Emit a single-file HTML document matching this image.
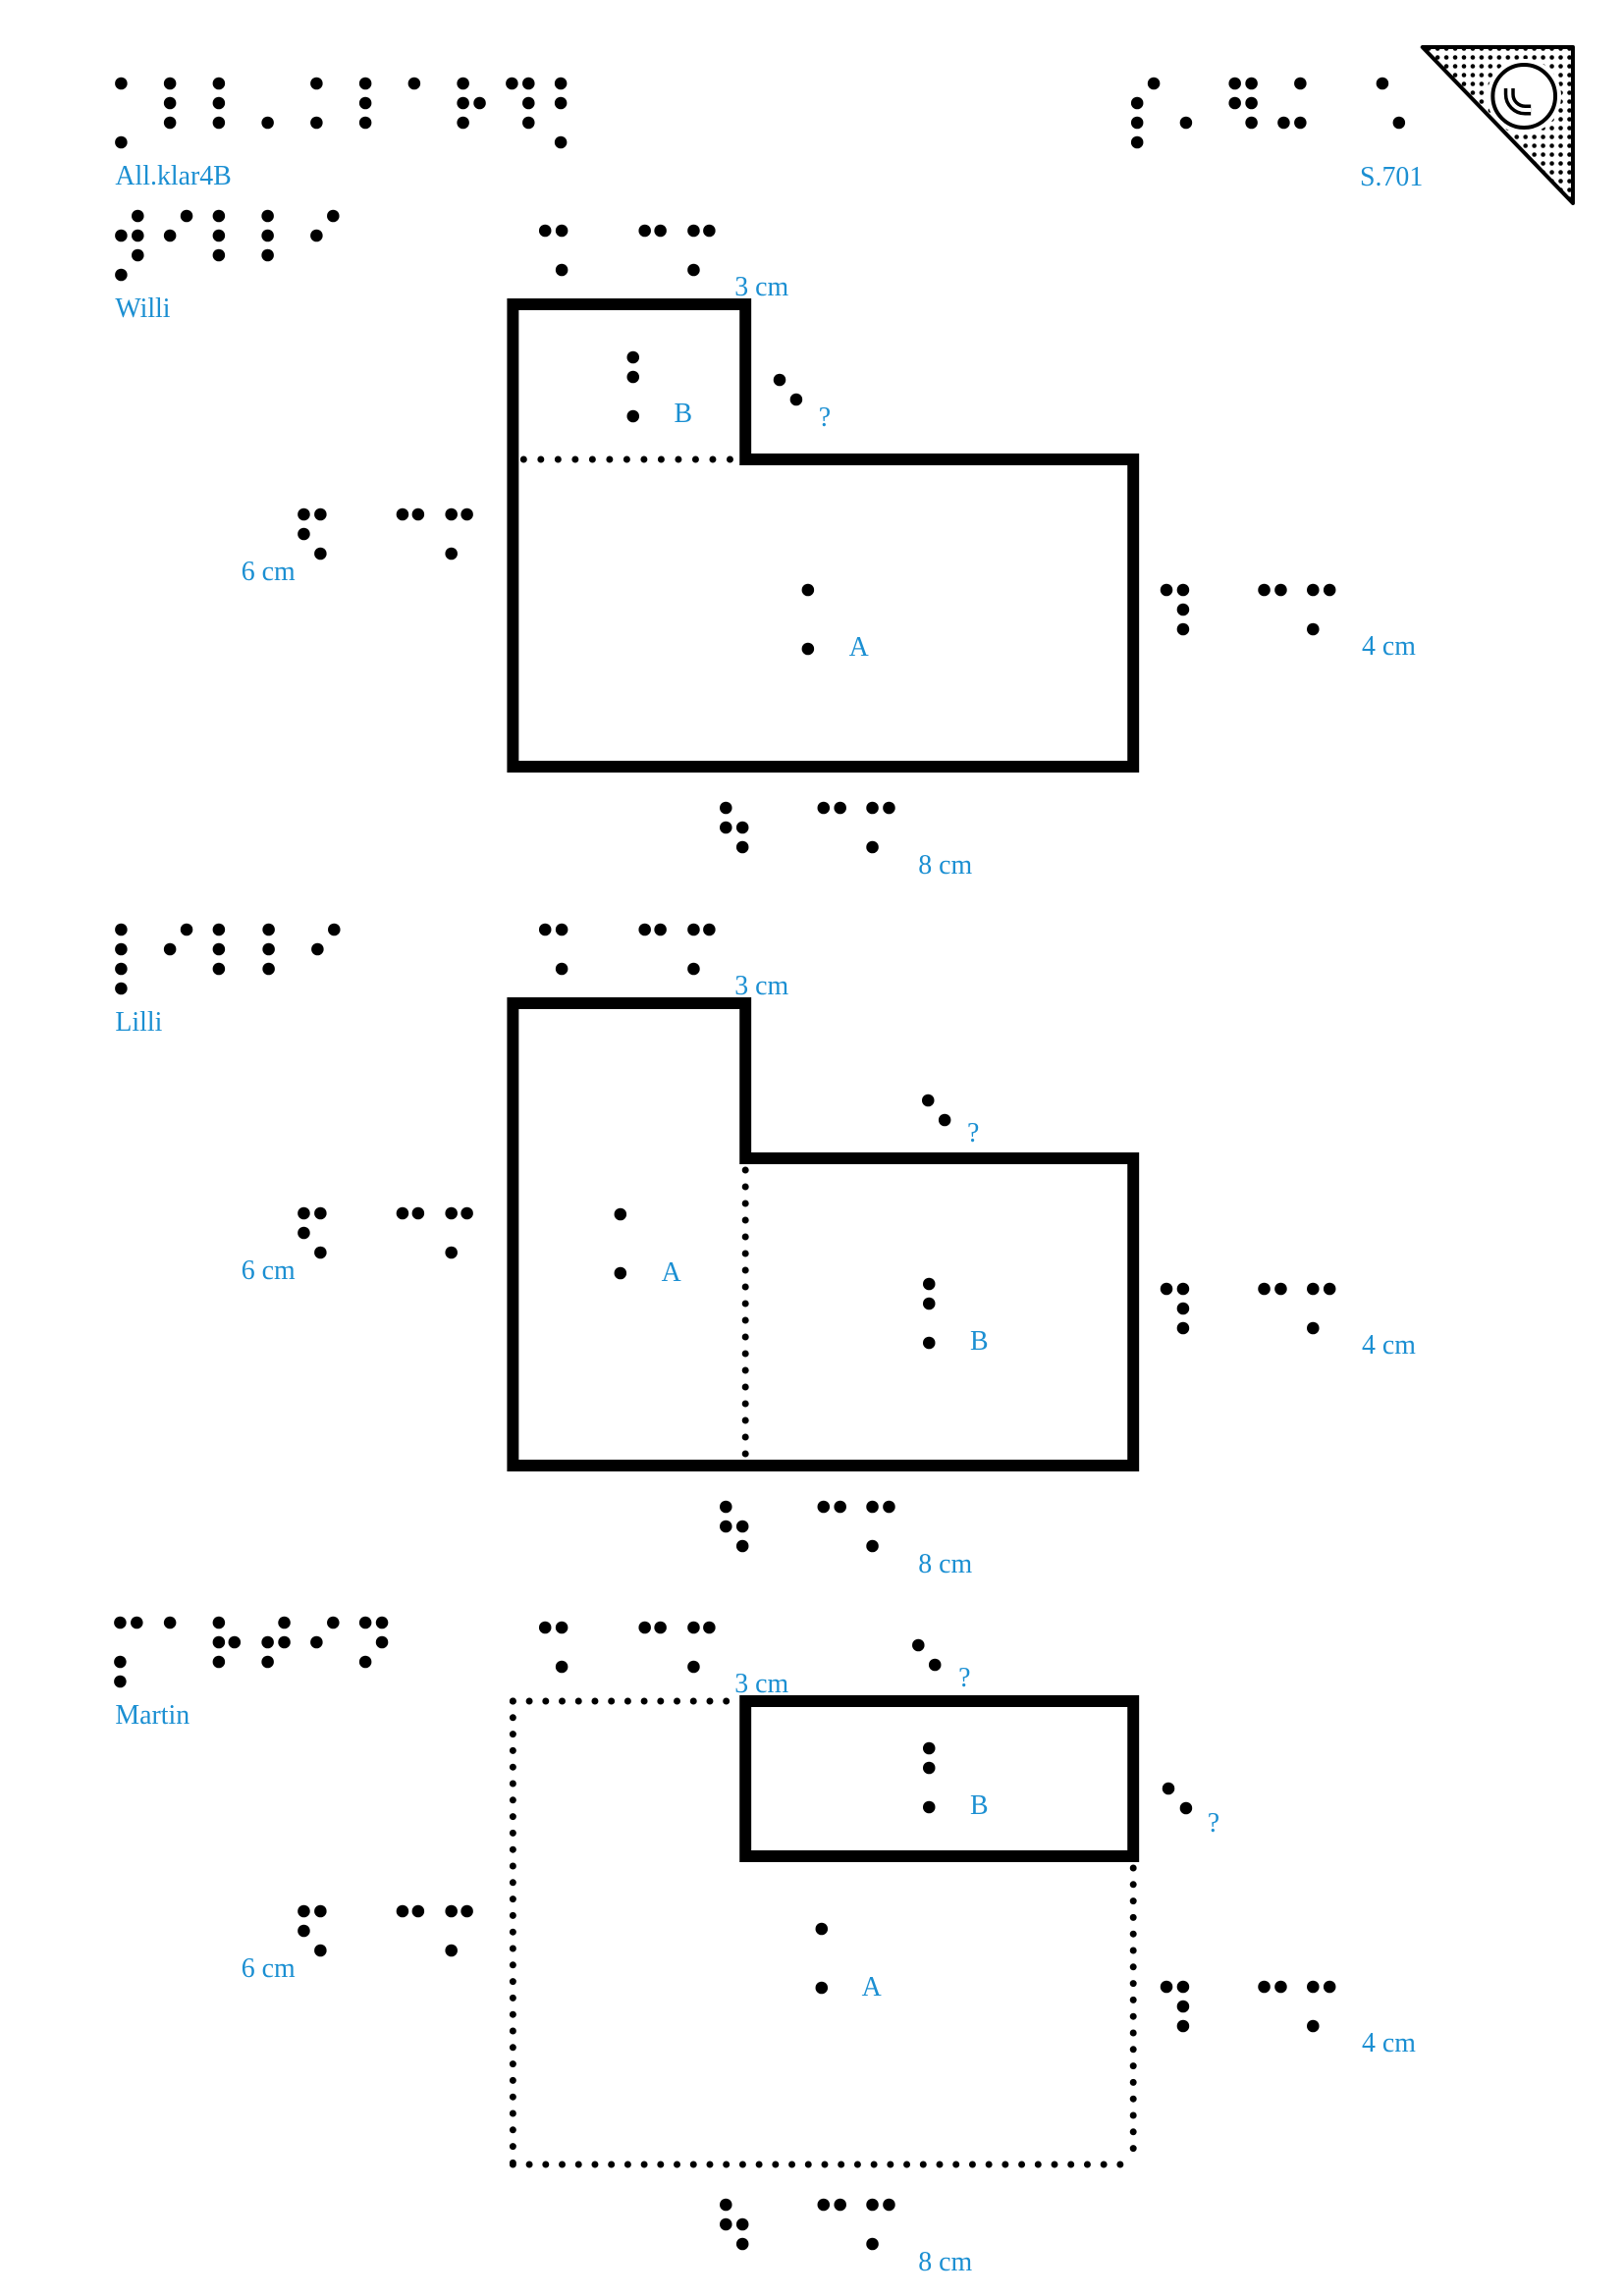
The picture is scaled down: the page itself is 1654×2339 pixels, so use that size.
<!DOCTYPE html>
<html><head><meta charset="utf-8"><style>
html,body{margin:0;padding:0;background:#fff;}
svg{display:block;}
text{font-family:"Liberation Serif",serif;font-size:28px;fill:#1b8fd2;}
</style></head><body>
<svg width="1654" height="2339" viewBox="0 0 1654 2339" xmlns="http://www.w3.org/2000/svg">
<defs>
<pattern id="dp" width="9" height="9" patternUnits="userSpaceOnUse"><circle cx="4.5" cy="4.5" r="2.3" fill="#000"/></pattern>
<clipPath id="tri"><polygon points="1456,48 1610,48 1610,207"/></clipPath>
<g id="common">
 <circle cx="558" cy="235" r="6.3"/><circle cx="575" cy="235" r="6.3"/><circle cx="575" cy="275" r="6.3"/>
 <circle cx="660" cy="235" r="6.3"/><circle cx="676" cy="235" r="6.3"/>
 <circle cx="710" cy="235" r="6.3"/><circle cx="726" cy="235" r="6.3"/><circle cx="710" cy="275" r="6.3"/>
 <text x="752" y="301">3 cm</text>
 <circle cx="311" cy="524" r="6.3"/><circle cx="328" cy="524" r="6.3"/><circle cx="311" cy="544" r="6.3"/><circle cx="328" cy="564" r="6.3"/>
 <circle cx="412" cy="524" r="6.3"/><circle cx="428" cy="524" r="6.3"/>
 <circle cx="462" cy="524" r="6.3"/><circle cx="478" cy="524" r="6.3"/><circle cx="462" cy="564" r="6.3"/>
 <text x="247" y="591">6 cm</text>
 <circle cx="1194" cy="601" r="6.3"/><circle cx="1211" cy="601" r="6.3"/><circle cx="1211" cy="621" r="6.3"/><circle cx="1211" cy="641" r="6.3"/>
 <circle cx="1294" cy="601" r="6.3"/><circle cx="1311" cy="601" r="6.3"/>
 <circle cx="1344" cy="601" r="6.3"/><circle cx="1361" cy="601" r="6.3"/><circle cx="1344" cy="641" r="6.3"/>
 <text x="1394" y="667">4 cm</text>
 <circle cx="743" cy="823" r="6.3"/><circle cx="743" cy="843" r="6.3"/><circle cx="760" cy="843" r="6.3"/><circle cx="760" cy="863" r="6.3"/>
 <circle cx="843" cy="823" r="6.3"/><circle cx="860" cy="823" r="6.3"/>
 <circle cx="893" cy="823" r="6.3"/><circle cx="910" cy="823" r="6.3"/><circle cx="893" cy="863" r="6.3"/>
 <text x="940" y="890">8 cm</text>
</g>
</defs>
<g transform="scale(0.995,1)">
<g fill="#000">
<circle cx="124" cy="85" r="6.3"/><circle cx="124" cy="145" r="6.3"/>
<circle cx="174" cy="85" r="6.3"/><circle cx="174" cy="105" r="6.3"/><circle cx="174" cy="125" r="6.3"/>
<circle cx="224" cy="85" r="6.3"/><circle cx="224" cy="105" r="6.3"/><circle cx="224" cy="125" r="6.3"/>
<circle cx="274" cy="125" r="6.3"/>
<circle cx="324" cy="85" r="6.3"/><circle cx="324" cy="125" r="6.3"/>
<circle cx="374" cy="85" r="6.3"/><circle cx="374" cy="105" r="6.3"/><circle cx="374" cy="125" r="6.3"/>
<circle cx="424" cy="85" r="6.3"/>
<circle cx="474" cy="85" r="6.3"/><circle cx="474" cy="105" r="6.3"/><circle cx="491" cy="105" r="6.3"/><circle cx="474" cy="125" r="6.3"/>
<circle cx="524" cy="85" r="6.3"/><circle cx="541" cy="85" r="6.3"/><circle cx="541" cy="105" r="6.3"/><circle cx="541" cy="125" r="6.3"/>
<circle cx="574" cy="85" r="6.3"/><circle cx="574" cy="105" r="6.3"/><circle cx="574" cy="145" r="6.3"/>
</g>
<text x="118" y="188">All.klar4B</text>

<g fill="#000">
<circle cx="1164" cy="105" r="6.3"/><circle cx="1164" cy="125" r="6.3"/><circle cx="1164" cy="145" r="6.3"/><circle cx="1181" cy="85" r="6.3"/><circle cx="1214" cy="125" r="6.3"/>
<circle cx="1264" cy="85" r="6.3"/><circle cx="1281" cy="85" r="6.3"/><circle cx="1264" cy="105" r="6.3"/><circle cx="1281" cy="105" r="6.3"/><circle cx="1281" cy="125" r="6.3"/>
<circle cx="1314" cy="125" r="6.3"/><circle cx="1331" cy="85" r="6.3"/><circle cx="1331" cy="125" r="6.3"/>
<circle cx="1415" cy="85" r="6.3"/><circle cx="1432" cy="125" r="6.3"/>
</g>
<text x="1392" y="189">S.701</text>
<rect x="1440" y="40" width="180" height="180" fill="url(#dp)" clip-path="url(#tri)"/>
<circle cx="1560" cy="98" r="38" fill="#fff"/>
<circle cx="1560" cy="98" r="32" fill="none" stroke="#000" stroke-width="4"/>
<path d="M1545,90 v6 a16,16 0 0 0 16,16 h6" fill="none" stroke="#000" stroke-width="11"/>
<path d="M1545,90 v6 a16,16 0 0 0 16,16 h6" fill="none" stroke="#fff" stroke-width="4"/>
<polygon points="1456,48 1610,48 1610,207" fill="none" stroke="#000" stroke-width="4" stroke-linejoin="round"/>

<!-- Willi -->
<g fill="#000">
<circle cx="141" cy="220" r="6.3"/><circle cx="124" cy="240" r="6.3"/><circle cx="141" cy="240" r="6.3"/><circle cx="141" cy="260" r="6.3"/><circle cx="124" cy="280" r="6.3"/>
<circle cx="191" cy="220" r="6.3"/><circle cx="174" cy="240" r="6.3"/>
<circle cx="224" cy="220" r="6.3"/><circle cx="224" cy="240" r="6.3"/><circle cx="224" cy="260" r="6.3"/>
<circle cx="274" cy="220" r="6.3"/><circle cx="274" cy="240" r="6.3"/><circle cx="274" cy="260" r="6.3"/>
<circle cx="341" cy="220" r="6.3"/><circle cx="324" cy="240" r="6.3"/>
</g>
<text x="118" y="323">Willi</text>
<use href="#common"/>
<path d="M525,310 H763 V468 H1160 V781 H525 Z" fill="none" stroke="#000" stroke-width="12"/>
<line x1="536" y1="468" x2="752" y2="468" stroke="#000" stroke-width="7" stroke-linecap="round" stroke-dasharray="0 17.6"/>
<g fill="#000">
<circle cx="648" cy="364" r="6.3"/><circle cx="648" cy="384" r="6.3"/><circle cx="648" cy="424" r="6.3"/>
<circle cx="798" cy="387" r="6.3"/><circle cx="815" cy="407" r="6.3"/>
<circle cx="827" cy="601" r="6.3"/><circle cx="827" cy="661" r="6.3"/>
</g>
<text x="690" y="430">B</text>
<text x="838" y="434">?</text>
<text x="869" y="668">A</text>

<!-- Lilli -->
<g fill="#000">
<circle cx="124" cy="947" r="6.3"/><circle cx="124" cy="967" r="6.3"/><circle cx="124" cy="987" r="6.3"/><circle cx="124" cy="1007" r="6.3"/>
<circle cx="191" cy="947" r="6.3"/><circle cx="174" cy="967" r="6.3"/>
<circle cx="224" cy="947" r="6.3"/><circle cx="224" cy="967" r="6.3"/><circle cx="224" cy="987" r="6.3"/>
<circle cx="275" cy="947" r="6.3"/><circle cx="275" cy="967" r="6.3"/><circle cx="275" cy="987" r="6.3"/>
<circle cx="342" cy="947" r="6.3"/><circle cx="325" cy="967" r="6.3"/>
</g>
<text x="118" y="1050">Lilli</text>
<use href="#common" transform="translate(0,712)"/>
<path d="M525,1022 H763 V1180 H1160 V1493 H525 Z" fill="none" stroke="#000" stroke-width="12"/>
<line x1="763" y1="1192" x2="763" y2="1485" stroke="#000" stroke-width="7" stroke-linecap="round" stroke-dasharray="0 17"/>
<g fill="#000">
<circle cx="635" cy="1237" r="6.3"/><circle cx="635" cy="1297" r="6.3"/>
<circle cx="951" cy="1308" r="6.3"/><circle cx="951" cy="1328" r="6.3"/><circle cx="951" cy="1368" r="6.3"/>
<circle cx="950" cy="1121" r="6.3"/><circle cx="967" cy="1141" r="6.3"/>
</g>
<text x="677" y="1305">A</text>
<text x="993" y="1375">B</text>
<text x="990" y="1163">?</text>

<!-- Martin -->
<g fill="#000">
<circle cx="123" cy="1653" r="6.3"/><circle cx="140" cy="1653" r="6.3"/><circle cx="174" cy="1653" r="6.3"/><circle cx="224" cy="1653" r="6.3"/><circle cx="291" cy="1653" r="6.3"/><circle cx="341" cy="1653" r="6.3"/><circle cx="374" cy="1653" r="6.3"/><circle cx="391" cy="1653" r="6.3"/>
<circle cx="224" cy="1673" r="6.3"/><circle cx="240" cy="1673" r="6.3"/><circle cx="274" cy="1673" r="6.3"/><circle cx="291" cy="1673" r="6.3"/><circle cx="324" cy="1673" r="6.3"/><circle cx="391" cy="1673" r="6.3"/>
<circle cx="123" cy="1693" r="6.3"/><circle cx="224" cy="1693" r="6.3"/><circle cx="274" cy="1693" r="6.3"/><circle cx="374" cy="1693" r="6.3"/>
<circle cx="123" cy="1713" r="6.3"/>
</g>
<text x="118" y="1756">Martin</text>
<use href="#common" transform="translate(0,1423)"/>
<g stroke="#000" stroke-width="7" stroke-linecap="round" stroke-dasharray="0 16.8" fill="none">
<line x1="525" y1="1733" x2="760" y2="1733"/>
<line x1="525" y1="1733" x2="525" y2="2208"/>
<line x1="525" y1="2205" x2="1162" y2="2205"/>
<line x1="1160" y1="1903" x2="1160" y2="2205"/>
</g>
<rect x="763" y="1733" width="397" height="158" fill="none" stroke="#000" stroke-width="12"/>
<g fill="#000">
<circle cx="940" cy="1676" r="6.3"/><circle cx="957" cy="1696" r="6.3"/>
<circle cx="951" cy="1781" r="6.3"/><circle cx="951" cy="1801" r="6.3"/><circle cx="951" cy="1841" r="6.3"/>
<circle cx="1196" cy="1822" r="6.3"/><circle cx="1214" cy="1842" r="6.3"/>
<circle cx="841" cy="1965" r="6.3"/><circle cx="841" cy="2025" r="6.3"/>
</g>
<text x="981" y="1718">?</text>
<text x="993" y="1848">B</text>
<text x="1236" y="1866">?</text>
<text x="882" y="2033">A</text>
</g>
</svg>
</body></html>
